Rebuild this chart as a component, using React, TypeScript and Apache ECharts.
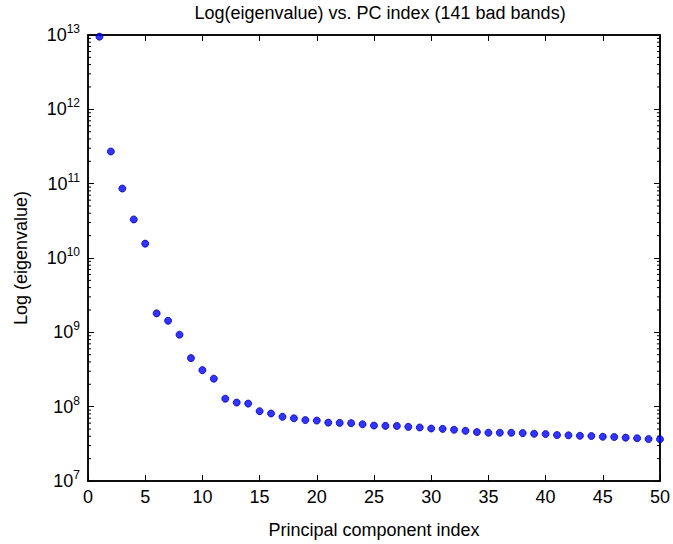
import React, { useEffect, useRef } from "react";
import * as echarts from "echarts";

const pcIndex = [1,2,3,4,5,6,7,8,9,10,11,12,13,14,15,16,17,18,19,20,21,22,23,24,25,26,27,28,29,30,31,32,33,34,35,36,37,38,39,40,41,42,43,44,45,46,47,48,49,50];
const eigenvalues = [
  9.5e12, 2.71e11, 8.6e10, 3.3e10, 1.56e10, 1.8e9, 1.43e9, 9.3e8, 4.5e8, 3.1e8,
  2.38e8, 1.28e8, 1.135e8, 1.1e8, 8.7e7, 8.1e7, 7.3e7, 6.97e7, 6.6e7, 6.5e7,
  6.1e7, 6.05e7, 6.0e7, 5.8e7, 5.57e7, 5.52e7, 5.5e7, 5.35e7, 5.25e7, 5.08e7,
  5.03e7, 4.89e7, 4.73e7, 4.55e7, 4.46e7, 4.46e7, 4.45e7, 4.41e7, 4.32e7, 4.28e7,
  4.15e7, 4.12e7, 4.06e7, 4.03e7, 3.94e7, 3.91e7, 3.83e7, 3.76e7, 3.67e7, 3.64e7,
];
const decades = [7, 8, 9, 10, 11, 12, 13];
const minorMultipliers = [2, 3, 4, 5, 6, 7, 8, 9];
const titleText = "Log(eigenvalue) vs. PC index (141 bad bands)";
const xName = "Principal component index";
const yName = "Log (eigenvalue)";

const minorTickValues: number[] = [];
for (let i = 0; i < decades.length - 1; i++) {
  for (const m of minorMultipliers) minorTickValues.push(m * Math.pow(10, decades[i]));
}

export default function App() {
  const ref = useRef<HTMLDivElement>(null);
  useEffect(() => {
    if (!ref.current) return;
    const chart = echarts.init(ref.current, undefined, { renderer: "svg" });
    const font = "'Liberation Sans', Arial, Helvetica, sans-serif";
    const tickCommon = {
      axisLine: { show: true, onZero: false, lineStyle: { color: "#000", width: 1.5 } },
      axisTick: { show: true, inside: true, length: 6, lineStyle: { color: "#000", width: 1 } },
      splitLine: { show: false },
    };
    chart.setOption({
      animation: false,
      backgroundColor: "#fff",
      title: {
        text: titleText,
        left: 375,
        textAlign: "center",
        top: -1,
        textStyle: { fontFamily: font, fontSize: 18, fontWeight: "normal", color: "#000" },
      },
      grid: {
        left: 88, right: 10, top: 35, bottom: 56,
        show: true, backgroundColor: "transparent", borderColor: "#000", borderWidth: 1.5,
      },
      xAxis: [
        {
          type: "value",
          min: 0,
          max: 50,
          interval: 5,
          position: "bottom",
          name: xName,
          nameLocation: "middle",
          nameGap: 40,
          nameTextStyle: { fontFamily: font, fontSize: 18, color: "#000" },
          axisLabel: { fontFamily: font, fontSize: 18, color: "#000", margin: 7 },
          ...tickCommon,
        },
        {
          type: "value",
          min: 0,
          max: 50,
          interval: 5,
          position: "top",
          axisLabel: { show: false },
          ...tickCommon,
        },
      ],
      yAxis: [
        {
          type: "log",
          logBase: 10,
          min: 1e7,
          max: 1e13,
          interval: 1,
          position: "left",
          name: yName,
          nameLocation: "middle",
          nameGap: 58,
          nameTextStyle: { fontFamily: font, fontSize: 18, color: "#000" },
          axisLabel: {
            margin: 8,
            formatter: (v: number) => {
              const e = Math.round(Math.log10(v));
              return "{b|10}{s|" + e + "}";
            },
            rich: {
              b: { fontFamily: font, fontSize: 18, color: "#000" },
              s: { fontFamily: font, fontSize: 12, color: "#000", padding: [0, 0, 12, 0] },
            },
          },
          ...tickCommon,
        },
        {
          type: "log",
          logBase: 10,
          min: 1e7,
          max: 1e13,
          interval: 1,
          position: "right",
          axisLabel: { show: false },
          ...tickCommon,
        },
      ],
      series: [
        {
          type: "custom",
          xAxisIndex: 0,
          yAxisIndex: 0,
          silent: true,
          clip: false,
          data: minorTickValues.map((v) => [0, v]),
          renderItem: (params: any, api: any) => {
            const v = api.value(1);
            const l = api.coord([0, v]);
            const r = api.coord([50, v]);
            return {
              type: "group",
              children: [
                { type: "line", shape: { x1: l[0], y1: l[1], x2: l[0] + 3, y2: l[1] }, style: { stroke: "#000", lineWidth: 1 } },
                { type: "line", shape: { x1: r[0], y1: r[1], x2: r[0] - 3, y2: r[1] }, style: { stroke: "#000", lineWidth: 1 } },
              ],
            };
          },
        },
        {
          type: "scatter",
          xAxisIndex: 0,
          yAxisIndex: 0,
          clip: false,
          symbol: "circle",
          symbolSize: 7,
          itemStyle: { color: "#0000ff", borderColor: "#0000b0", borderWidth: 1 },
          data: pcIndex.map((x, i) => [x, eigenvalues[i]]),
        },
      ],
    });
    return () => chart.dispose();
  }, []);
  return <div ref={ref} style={{ position: "absolute", left: 0, top: 0, width: 673, height: 544 }} />;
}
